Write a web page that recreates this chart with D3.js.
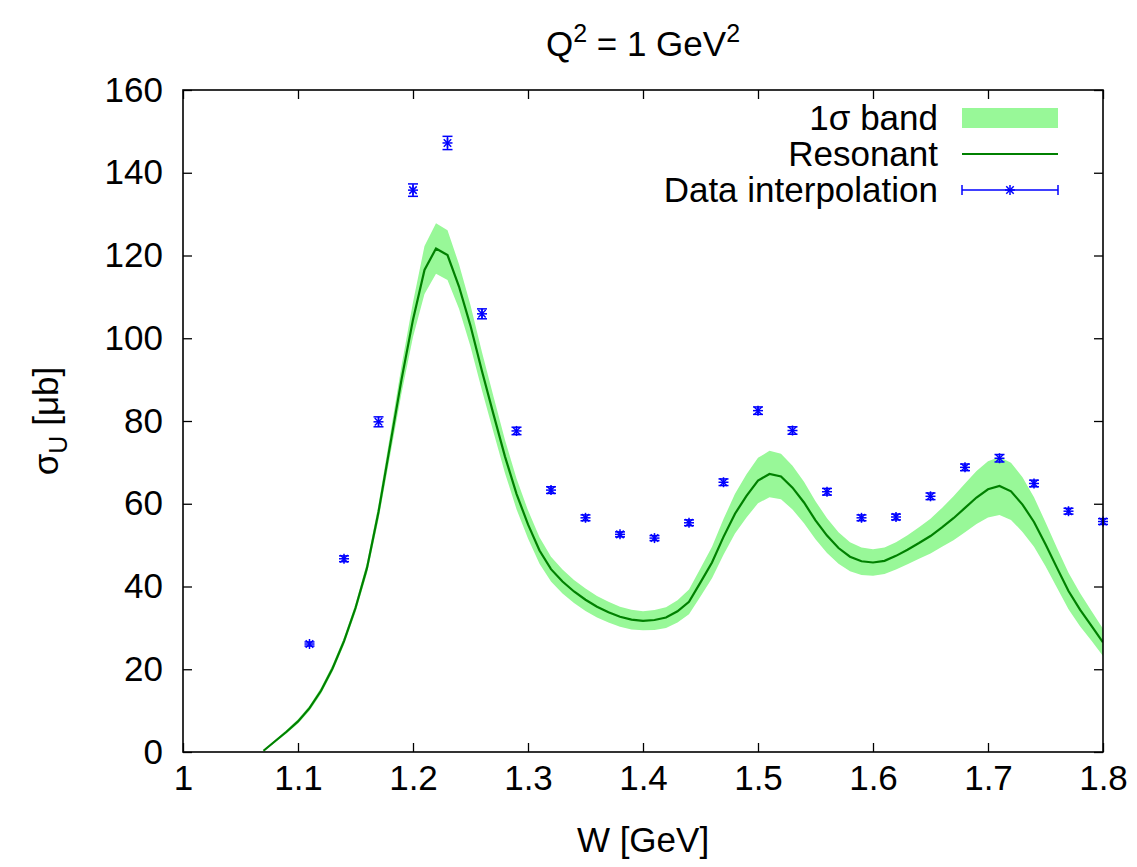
<!DOCTYPE html>
<html>
<head>
<meta charset="utf-8">
<script src="https://cdn.jsdelivr.net/npm/d3@7"></script>
<style>
  body { margin: 0; background: #fff; }
  text { font-family: "Liberation Sans", Arial, Helvetica, sans-serif; fill: #000; }
  .axis path, .axis line { stroke: #000; }
</style>
</head>
<body>
<svg id="chart" width="1137" height="867"></svg>
<script>
// W grid of the resonant curve [GeV]
const wGrid = [1.07, 1.08, 1.09, 1.10, 1.11, 1.12, 1.13, 1.14, 1.15, 1.16, 1.17, 1.18, 1.19,
  1.20, 1.21, 1.22, 1.23, 1.24, 1.25, 1.26, 1.27, 1.28, 1.29, 1.30, 1.31, 1.32, 1.33, 1.34,
  1.35, 1.36, 1.37, 1.38, 1.39, 1.40, 1.41, 1.42, 1.43, 1.44, 1.45, 1.46, 1.47, 1.48, 1.49,
  1.50, 1.51, 1.52, 1.53, 1.54, 1.55, 1.56, 1.57, 1.58, 1.59, 1.60, 1.61, 1.62, 1.63, 1.64,
  1.65, 1.66, 1.67, 1.68, 1.69, 1.70, 1.71, 1.72, 1.73, 1.74, 1.75, 1.76, 1.77, 1.78, 1.79, 1.80];

// resonant cross section [mub]
const resonant = [0.3, 2.6, 4.9, 7.4, 10.6, 14.8, 20.2, 26.8, 34.8, 44.5, 58.0, 74.0, 90.0,
  104.5, 116.5, 121.7, 120.1, 112.5, 103.0, 92.0, 81.6, 71.4, 62.4, 55.0, 48.7, 44.2, 41.2, 38.8,
  36.8, 35.1, 33.8, 32.7, 32.0, 31.7, 31.9, 32.5, 34.0, 36.3, 41.0, 45.8, 52.0, 57.6, 61.9,
  65.6, 67.2, 66.6, 63.9, 60.3, 56.0, 52.3, 49.3, 47.2, 46.1, 45.8, 46.2, 47.4, 48.9, 50.5,
  52.2, 54.3, 56.5, 59.0, 61.5, 63.5, 64.3, 63.0, 59.8, 55.6, 50.2, 44.5, 38.9, 34.4, 30.5, 26.5];

// 1 sigma half width of the band
const bandErr = [0.2, 0.3, 0.4, 0.5, 0.6, 0.7, 0.8, 0.9, 1.0, 1.3, 1.8, 2.5, 3.3,
  4.2, 5.8, 6.1, 6.0, 5.4, 5.0, 4.6, 4.3, 4.0, 3.7, 3.4, 3.2, 3.0, 2.9, 2.8,
  2.7, 2.6, 2.5, 2.4, 2.4, 2.3, 2.4, 2.5, 2.7, 3.0, 3.4, 3.8, 4.3, 4.8, 5.2,
  5.5, 5.6, 5.5, 5.3, 5.0, 4.6, 4.2, 3.8, 3.5, 3.3, 3.2, 3.2, 3.3, 3.5, 3.8,
  4.2, 4.7, 5.3, 5.9, 6.4, 6.8, 7.0, 6.9, 6.6, 6.0, 5.3, 4.8, 4.4, 4.0, 3.6, 3.3];

// data interpolation points
const dataW = [1.11, 1.14, 1.17, 1.20, 1.23, 1.26, 1.29, 1.32, 1.35, 1.38, 1.41, 1.44,
  1.47, 1.50, 1.53, 1.56, 1.59, 1.62, 1.65, 1.68, 1.71, 1.74, 1.77, 1.80];
const dataSigma = [26.1, 46.7, 79.8, 135.8, 147.2, 105.9, 77.6, 63.3, 56.6, 52.6, 51.7, 55.4,
  65.2, 82.5, 77.7, 62.9, 56.6, 56.8, 61.8, 68.8, 71.0, 64.9, 58.2, 55.7];
const dataErr = [0.5, 0.7, 1.2, 1.5, 1.6, 1.2, 0.9, 0.8, 0.7, 0.6, 0.6, 0.7,
  0.8, 0.9, 0.9, 0.8, 0.7, 0.7, 0.8, 0.8, 0.9, 0.8, 0.7, 0.7];

const xTicks = [1, 1.1, 1.2, 1.3, 1.4, 1.5, 1.6, 1.7, 1.8];
const yTicks = [0, 20, 40, 60, 80, 100, 120, 140, 160];
const legendLabels = ["1\u03c3 band", "Resonant", "Data interpolation"];

const bandColor = "#98f898";
const lineColor = "#008000";
const pointColor = "#0000ff";

const svg = d3.select("#chart");
const margin = {top: 90, right: 34, bottom: 115, left: 183};
const width = +svg.attr("width");
const height = +svg.attr("height");
const innerWidth = width - margin.left - margin.right;
const innerHeight = height - margin.top - margin.bottom;

const xScale = d3.scaleLinear().domain([1, 1.8]).range([0, innerWidth]);
const yScale = d3.scaleLinear().domain([0, 160]).range([innerHeight, 0]);

const g = svg.append("g")
  .attr("transform", `translate(${margin.left}, ${margin.top})`);

const defs = svg.append("defs");
defs.append("clipPath").attr("id", "plotclip")
  .append("rect").attr("width", innerWidth).attr("height", innerHeight);

const curve = wGrid.map((w, i) => ({w, v: resonant[i], e: bandErr[i]}));
const points = dataW.map((w, i) => ({w, v: dataSigma[i], e: dataErr[i]}));

const plot = g.append("g").attr("clip-path", "url(#plotclip)");

// band
const area = d3.area()
  .x(d => xScale(d.w))
  .y0(d => yScale(d.v - d.e))
  .y1(d => yScale(d.v + d.e));
plot.append("path")
  .attr("d", area(curve))
  .attr("fill", bandColor);

// resonant line
const line = d3.line()
  .x(d => xScale(d.w))
  .y(d => yScale(d.v));
plot.append("path")
  .attr("d", line(curve))
  .attr("fill", "none")
  .attr("stroke", lineColor)
  .attr("stroke-width", 2.2);

// star marker (gnuplot pt 3)
function star(sel, r) {
  sel.append("line").attr("x1", -r).attr("x2", r).attr("y1", 0).attr("y2", 0);
  sel.append("line").attr("x1", 0).attr("x2", 0).attr("y1", -r).attr("y2", r);
  sel.append("line").attr("x1", -r * 0.75).attr("x2", r * 0.75).attr("y1", -r * 0.75).attr("y2", r * 0.75);
  sel.append("line").attr("x1", -r * 0.75).attr("x2", r * 0.75).attr("y1", r * 0.75).attr("y2", -r * 0.75);
}

const capW = 5;
const pts = g.append("g")
  .attr("stroke", pointColor)
  .attr("stroke-width", 1.5)
  .selectAll("g")
  .data(points)
  .enter().append("g");

pts.append("line")
  .attr("x1", d => xScale(d.w)).attr("x2", d => xScale(d.w))
  .attr("y1", d => yScale(d.v - d.e)).attr("y2", d => yScale(d.v + d.e));
pts.append("line")
  .attr("x1", d => xScale(d.w) - capW).attr("x2", d => xScale(d.w) + capW)
  .attr("y1", d => yScale(d.v - d.e)).attr("y2", d => yScale(d.v - d.e));
pts.append("line")
  .attr("x1", d => xScale(d.w) - capW).attr("x2", d => xScale(d.w) + capW)
  .attr("y1", d => yScale(d.v + d.e)).attr("y2", d => yScale(d.v + d.e));
pts.append("g")
  .attr("transform", d => `translate(${xScale(d.w)},${yScale(d.v)})`)
  .call(s => star(s, 5));

// axes, ticks inward and mirrored
const fontSize = 35;
const xAxis = d3.axisBottom(xScale).tickValues(xTicks).tickSize(-9).tickPadding(13)
  .tickFormat(d3.format("~g"));
const yAxis = d3.axisLeft(yScale).tickValues(yTicks).tickSize(-9).tickPadding(20);
const xAxisTop = d3.axisTop(xScale).tickValues(xTicks).tickSize(-9);
const yAxisRight = d3.axisRight(yScale).tickValues(yTicks).tickSize(-9);

g.append("g").attr("class", "axis").attr("transform", `translate(0,${innerHeight})`).call(xAxis);
g.append("g").attr("class", "axis").call(yAxis);
g.append("g").attr("class", "axis mirror").call(xAxisTop);
g.append("g").attr("class", "axis mirror").attr("transform", `translate(${innerWidth},0)`).call(yAxisRight);

g.selectAll(".mirror text").remove();
g.selectAll(".axis .domain").remove();
g.selectAll(".axis line").attr("stroke-width", 1.3);
g.selectAll(".axis text")
  .style("font-family", '"Liberation Sans", Arial, sans-serif')
  .style("font-size", fontSize + "px")
  .attr("fill", "#000");

// frame
g.append("rect")
  .attr("width", innerWidth).attr("height", innerHeight)
  .attr("fill", "none").attr("stroke", "#000").attr("stroke-width", 1.6);

// axis labels
g.append("text")
  .attr("x", innerWidth / 2).attr("y", innerHeight + 100)
  .attr("text-anchor", "middle")
  .style("font-size", fontSize + "px")
  .text("W [GeV]");

const yl = svg.append("text")
  .attr("transform", `translate(58, ${margin.top + innerHeight / 2}) rotate(-90)`)
  .attr("text-anchor", "middle")
  .style("font-size", fontSize + "px");
yl.append("tspan").text("\u03c3");
yl.append("tspan").attr("dy", 9).style("font-size", "25px").text("U");
yl.append("tspan").attr("dy", -9).text(" [\u03bcb]");

// title
const title = svg.append("text")
  .attr("x", 643).attr("y", 56)
  .attr("text-anchor", "middle")
  .style("font-size", fontSize + "px");
title.append("tspan").text("Q");
title.append("tspan").attr("dy", -14).style("font-size", "25px").text("2");
title.append("tspan").attr("dy", 14).text(" = 1 GeV");
title.append("tspan").attr("dy", -14).style("font-size", "25px").text("2");

// legend
const legX = 938, swL = 962, swR = 1058;
const legY = [118, 154, 190];
const leg = svg.append("g");
leg.selectAll("text")
  .data(legendLabels)
  .enter().append("text")
  .attr("x", legX)
  .attr("y", (d, i) => legY[i])
  .attr("dy", "0.35em")
  .attr("text-anchor", "end")
  .style("font-size", fontSize + "px")
  .text(d => d);

leg.append("rect")
  .attr("x", swL).attr("y", legY[0] - 10)
  .attr("width", swR - swL).attr("height", 20)
  .attr("fill", bandColor);
leg.append("line")
  .attr("x1", swL).attr("x2", swR).attr("y1", legY[1]).attr("y2", legY[1])
  .attr("stroke", lineColor).attr("stroke-width", 2.2);
const le = leg.append("g").attr("stroke", pointColor).attr("stroke-width", 1.5);
le.append("line").attr("x1", swL).attr("x2", swR).attr("y1", legY[2]).attr("y2", legY[2]);
le.append("line").attr("x1", swL).attr("x2", swL).attr("y1", legY[2] - 5).attr("y2", legY[2] + 5);
le.append("line").attr("x1", swR).attr("x2", swR).attr("y1", legY[2] - 5).attr("y2", legY[2] + 5);
le.append("g").attr("transform", `translate(${(swL + swR) / 2},${legY[2]})`).call(s => star(s, 5));
</script>
</body>
</html>
